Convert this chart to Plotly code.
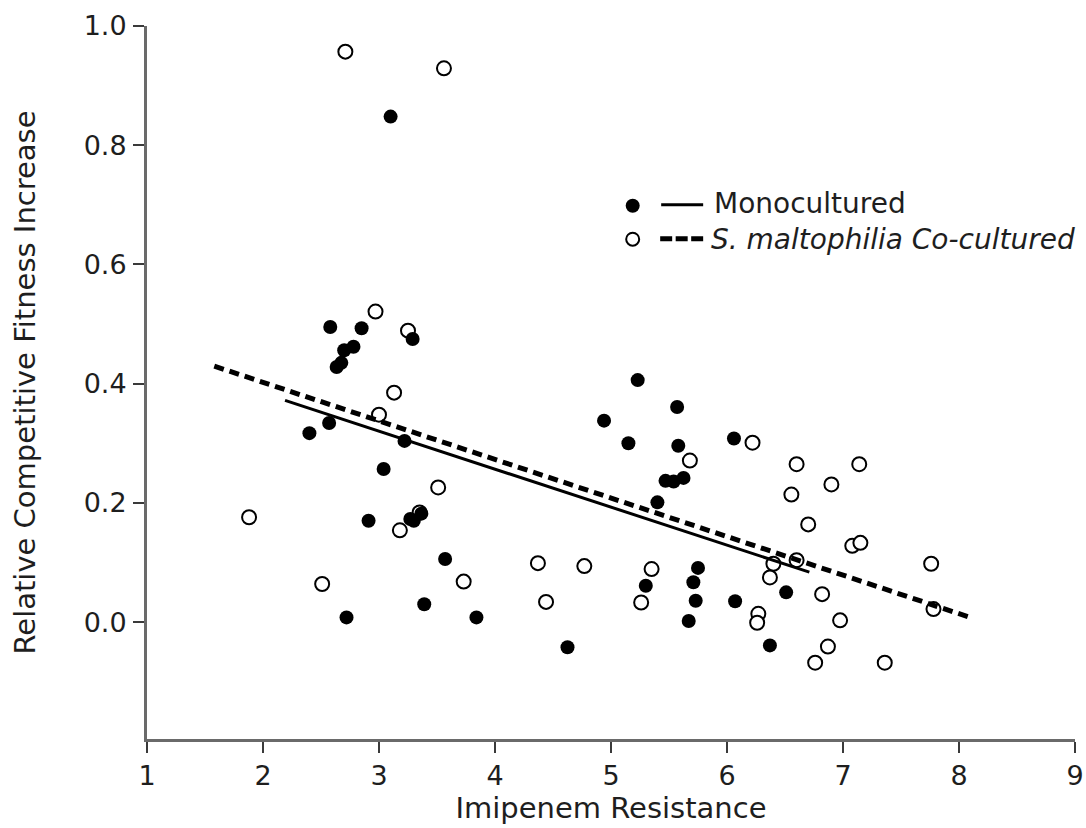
import plotly.graph_objects as go

# ---------------- data ----------------
mono_x = [3.10, 2.58, 2.85, 3.29, 2.78, 2.70, 2.675, 2.635, 2.57, 2.40, 3.22, 3.04,
          2.91, 3.27, 3.30, 3.365, 3.57, 3.39, 2.72, 3.84, 4.625, 5.23, 5.57, 4.94,
          5.15, 5.58, 6.06, 5.47, 5.54, 5.625, 5.40, 5.75, 5.30, 5.71, 5.73, 6.07,
          5.67, 6.51, 6.37]
mono_y = [0.848, 0.495, 0.493, 0.475, 0.462, 0.456, 0.435, 0.428, 0.334, 0.317, 0.304, 0.257,
          0.170, 0.173, 0.170, 0.182, 0.106, 0.030, 0.008, 0.008, -0.042, 0.406, 0.361, 0.338,
          0.300, 0.296, 0.308, 0.237, 0.236, 0.242, 0.201, 0.091, 0.061, 0.067, 0.036, 0.035,
          0.002, 0.050, -0.039]

co_x = [2.71, 3.56, 2.97, 3.25, 3.13, 3.00, 3.51, 1.88, 3.18, 3.35, 3.73, 2.51,
        4.37, 4.44, 4.77, 5.35, 5.26, 5.68, 6.22, 6.60, 7.14, 6.90, 6.555, 6.70,
        7.08, 7.15, 6.60, 6.40, 7.76, 6.37, 6.82, 7.78, 6.975, 6.27, 6.26, 6.87,
        6.76, 7.36]
co_y = [0.957, 0.929, 0.521, 0.489, 0.385, 0.348, 0.226, 0.176, 0.154, 0.184, 0.068, 0.064,
        0.099, 0.034, 0.094, 0.089, 0.033, 0.271, 0.301, 0.265, 0.265, 0.231, 0.214, 0.164,
        0.128, 0.133, 0.104, 0.098, 0.098, 0.075, 0.047, 0.022, 0.003, 0.014, -0.001, -0.041,
        -0.068, -0.068]

mono_fit_x = [2.19, 6.71]
mono_fit_y = [0.372, 0.084]
co_fit_x = [1.58, 8.08]
co_fit_y = [0.4295, 0.009]

x_ticks = [1, 2, 3, 4, 5, 6, 7, 8, 9]
y_ticks = [0.0, 0.2, 0.4, 0.6, 0.8, 1.0]

FONT = "DejaVu Sans"
TXT = "#1e1e1e"

fig = go.Figure()

fig.add_trace(go.Scatter(
    x=co_x, y=co_y, mode="markers", name="S. maltophilia Co-cultured",
    marker=dict(symbol="circle", size=14, color="white", line=dict(color="black", width=2)),
    showlegend=False))
fig.add_trace(go.Scatter(
    x=mono_x, y=mono_y, mode="markers", name="Monocultured",
    marker=dict(symbol="circle", size=14, color="black", line=dict(width=0)),
    showlegend=False))
fig.add_trace(go.Scatter(
    x=mono_fit_x, y=mono_fit_y, mode="lines",
    line=dict(color="black", width=3), showlegend=False))
fig.add_trace(go.Scatter(
    x=co_fit_x, y=co_fit_y, mode="lines",
    line=dict(color="black", width=5, dash="10px,6px"), showlegend=False))

# ---------------- custom legend (paper coordinates) ----------------
L, R, T, B = 146.6, 1075.0, 25.7, 739.0
W, H = R - L, B - T

def px(x):
    return (x - L) / W

def py(y):
    return (B - y) / H

shapes = []
# row 1: filled marker + solid line
shapes.append(dict(type="circle", xref="paper", yref="paper", xsizemode="pixel", ysizemode="pixel",
                   xanchor=px(632.5), yanchor=py(205.5), x0=-7, x1=7, y0=-7, y1=7,
                   fillcolor="black", line=dict(color="black", width=0)))
shapes.append(dict(type="line", xref="paper", yref="paper",
                   x0=px(661), x1=px(703), y0=py(204.5), y1=py(204.5),
                   line=dict(color="black", width=3)))
# row 2: open marker + dashed line
shapes.append(dict(type="circle", xref="paper", yref="paper", xsizemode="pixel", ysizemode="pixel",
                   xanchor=px(632.5), yanchor=py(239), x0=-6.5, x1=6.5, y0=-6.5, y1=6.5,
                   fillcolor="white", line=dict(color="black", width=2)))
shapes.append(dict(type="line", xref="paper", yref="paper",
                   x0=px(660), x1=px(703), y0=py(238.5), y1=py(238.5),
                   line=dict(color="black", width=5, dash="12px,3.5px")))

annotations = [
    dict(text="Monocultured", xref="paper", yref="paper", x=px(712), y=py(203.5),
         xanchor="left", yanchor="middle", showarrow=False,
         font=dict(family=FONT, size=28, color=TXT)),
    dict(text="<i>S. maltophilia Co-cultured</i>", xref="paper", yref="paper", x=px(709), y=py(239),
         xanchor="left", yanchor="middle", showarrow=False,
         font=dict(family=FONT, size=28, color=TXT)),
]

fig.update_layout(
    width=1086, height=828,
    margin=dict(l=L, r=1086 - R, t=T, b=828 - B, autoexpand=False),
    paper_bgcolor="white", plot_bgcolor="white",
    font=dict(family=FONT, color=TXT),
    shapes=shapes, annotations=annotations,
    showlegend=False,
)

fig.update_xaxes(
    range=[1, 9], tickvals=x_ticks, ticktext=[str(v) for v in x_ticks],
    showgrid=False, zeroline=False,
    showline=True, linecolor="#6a6a6a", linewidth=3,
    ticks="outside", ticklen=11, tickwidth=2, tickcolor="#3a3a3a",
    tickfont=dict(family=FONT, size=27, color=TXT),
    title=dict(text="Imipenem Resistance", font=dict(family=FONT, size=29, color=TXT), standoff=6),
    automargin=False,
)
fig.update_yaxes(
    range=[-0.196, 1.0], tickvals=y_ticks, ticktext=[f"{v:.1f}" for v in y_ticks],
    showgrid=False, zeroline=False,
    showline=True, linecolor="#6a6a6a", linewidth=3,
    ticks="outside", ticklen=11, tickwidth=2, tickcolor="#3a3a3a",
    tickfont=dict(family=FONT, size=27, color=TXT),
    ticklabelstandoff=1,
    title=dict(text="Relative Competitive Fitness Increase", font=dict(family=FONT, size=29, color=TXT), standoff=40),
    automargin=False,
)

fig.write_html("out.html", config={"displayModeBar": False},
               post_script="document.body.style.margin='0';document.body.style.overflow='hidden';")
